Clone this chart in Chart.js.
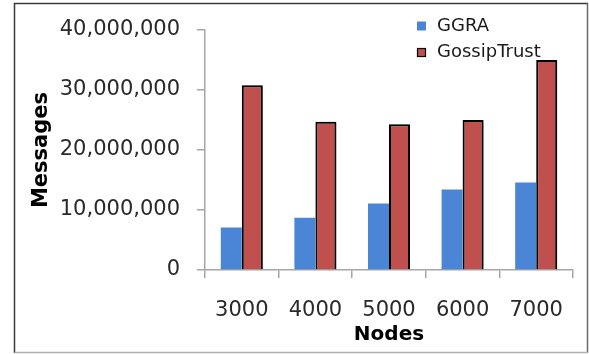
<!DOCTYPE html>
<html>
<head>
<meta charset="utf-8">
<script src="https://cdn.jsdelivr.net/npm/chart.js@4/dist/chart.umd.min.js"></script>
<style>
  html, body { margin: 0; padding: 0; background: #fff; }
  #wrap { width: 589px; height: 354px; position: relative; }
</style>
</head>
<body>
<div id="wrap"><canvas id="c" width="589" height="354"></canvas></div>
<script>
// Message counts per network size
const nodes = ['3000', '4000', '5000', '6000', '7000'];
const ggra = [7100000, 8700000, 11100000, 13400000, 14600000];
const gossipTrust = [30800000, 24700000, 24300000, 25000000, 35000000];
const yTicks = [0, 10000000, 20000000, 30000000, 40000000];

const FONT = 'DejaVu Sans';

// White page with a thin frame around the figure
const framePlugin = {
  id: 'frame',
  beforeDraw(chart) {
    const ctx = chart.ctx;
    ctx.save();
    ctx.fillStyle = '#ffffff';
    ctx.fillRect(0, 0, chart.width, chart.height);
    ctx.restore();
  },
  afterDraw(chart) {
    const ctx = chart.ctx;
    ctx.save();
    ctx.lineWidth = 1.5;
    ctx.strokeStyle = '#3a3a3a';
    ctx.beginPath();
    ctx.moveTo(14.5, 353); ctx.lineTo(14.5, 3.5); ctx.lineTo(588, 3.5);
    ctx.stroke();
    ctx.strokeStyle = '#6a6a6a';
    ctx.beginPath();
    ctx.moveTo(587.5, 3.5); ctx.lineTo(587.5, 353);
    ctx.stroke();
    ctx.strokeStyle = '#b0b0b0';
    ctx.beginPath();
    ctx.moveTo(14.5, 352.5); ctx.lineTo(588, 352.5);
    ctx.stroke();
    ctx.restore();
  }
};

// Soft drop shadow behind the outlined bars
const shadowPlugin = {
  id: 'barShadow',
  beforeDatasetDraw(chart, args) {
    if (args.index !== 1) return;
    const ctx = chart.ctx;
    ctx.save();
    ctx.shadowColor = 'rgba(0,0,0,0.30)';
    ctx.shadowBlur = 4;
    ctx.shadowOffsetX = 2;
    ctx.shadowOffsetY = 1;
  },
  afterDatasetDraw(chart, args) {
    if (args.index !== 1) return;
    chart.ctx.restore();
  }
};

// Legend stacked in the upper right corner, over the plot
const cornerLegend = {
  id: 'cornerLegend',
  afterDatasetsDraw(chart) {
    const ctx = chart.ctx;
    ctx.save();
    ctx.font = '18px "' + FONT + '"';
    ctx.textBaseline = 'middle';
    ctx.textAlign = 'left';
    const x = 417, y0 = 26, dy = 26.5, s = 9;
    chart.data.datasets.forEach((ds, i) => {
      const y = y0 + i * dy;
      ctx.fillStyle = ds.backgroundColor;
      ctx.fillRect(x, y - s / 2, s, s);
      if (ds.borderWidth) {
        ctx.lineWidth = 1.2;
        ctx.strokeStyle = ds.borderColor;
        ctx.strokeRect(x + 0.5, y - s / 2 + 0.5, s - 1, s - 1);
      }
      ctx.fillStyle = '#1a1a1a';
      ctx.fillText(ds.label, x + 20, y);
    });
    ctx.restore();
  }
};

new Chart(document.getElementById('c'), {
  type: 'bar',
  data: {
    labels: nodes,
    datasets: [
      {
        label: 'GGRA',
        data: ggra,
        backgroundColor: '#4a85d6',
        borderWidth: 0
      },
      {
        label: 'GossipTrust',
        data: gossipTrust,
        backgroundColor: '#c0504d',
        borderColor: '#000000',
        borderWidth: 2
      }
    ]
  },
  options: {
    responsive: false,
    animation: false,
    devicePixelRatio: 1,
    layout: { padding: { top: 30, right: 16, left: 0, bottom: 0 } },
    datasets: {
      bar: { categoryPercentage: 0.571, barPercentage: 1.0 }
    },
    plugins: {
      legend: { display: false },
      tooltip: { enabled: false }
    },
    scales: {
      x: {
        afterFit(scale) { scale.height = 84; },
        grid: {
          drawOnChartArea: false,
          drawTicks: true,
          tickLength: 8,
          color: '#a6a6a6',
          lineWidth: 1.5
        },
        border: { display: true, color: '#a6a6a6', width: 1.5 },
        ticks: {
          padding: 20,
          color: '#2a2a2a',
          font: { family: FONT, size: 21 }
        },
        title: {
          display: true,
          text: 'Nodes',
          color: '#000',
          font: { family: FONT, size: 20, weight: 'bold' },
          padding: { top: 0, bottom: 7 }
        }
      },
      y: {
        min: 0,
        max: 40000000,
        afterFit(scale) { scale.width = 205; },
        afterBuildTicks(scale) {
          scale.ticks = yTicks.map(v => ({ value: v }));
        },
        grid: {
          drawOnChartArea: false,
          drawTicks: true,
          tickLength: 8,
          color: '#a6a6a6',
          lineWidth: 1.5
        },
        border: { display: true, color: '#a6a6a6', width: 1.5 },
        ticks: {
          padding: 17,
          color: '#2a2a2a',
          font: { family: FONT, size: 21 },
          callback: v => Number(v).toLocaleString('en-US')
        },
        title: {
          display: true,
          text: 'Messages',
          color: '#000',
          font: { family: FONT, size: 21, weight: 'bold' },
          padding: { top: 29, bottom: 0 }
        }
      }
    }
  },
  plugins: [framePlugin, shadowPlugin, cornerLegend]
});
</script>
</body>
</html>
